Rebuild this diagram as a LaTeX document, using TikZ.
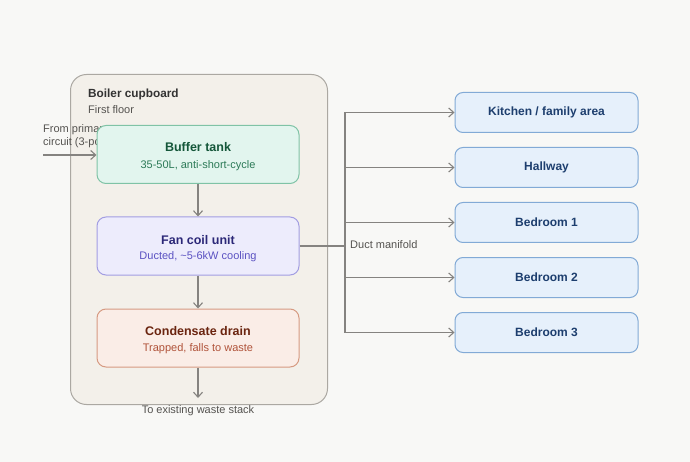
\documentclass[tikz,border=0pt]{standalone}
\usepackage{fontspec}
\setmainfont{Liberation Sans}
\usetikzlibrary{arrows.meta}
\definecolor{bg}{HTML}{F8F8F6}
\definecolor{cupfill}{HTML}{F3F0EA}
\definecolor{cupline}{HTML}{ABA8A2}
\definecolor{conn}{HTML}{858380}
\definecolor{tankfill}{HTML}{E2F5EE}
\definecolor{tankline}{HTML}{7FC3A6}
\definecolor{tanktitle}{HTML}{15573A}
\definecolor{tanksub}{HTML}{2C7A57}
\definecolor{fanfill}{HTML}{EDECFC}
\definecolor{fanline}{HTML}{A29DE2}
\definecolor{fantitle}{HTML}{2C2878}
\definecolor{fansub}{HTML}{5B52C2}
\definecolor{drfill}{HTML}{FAEDE7}
\definecolor{drline}{HTML}{D69A82}
\definecolor{drtitle}{HTML}{6A240F}
\definecolor{drsub}{HTML}{B0533A}
\definecolor{roomfill}{HTML}{E6F0FB}
\definecolor{roomline}{HTML}{82AAD6}
\definecolor{roomtext}{HTML}{1D3E6E}
\definecolor{labtext}{HTML}{555350}
\begin{document}
\begin{tikzpicture}[x=1pt,y=-1pt,
  unit/.style={draw,line width=1pt,rounded corners=9pt,minimum width=202pt,minimum height=58pt,inner sep=0pt},
  room/.style={draw=roomline,fill=roomfill,line width=1pt,rounded corners=8pt,minimum width=183pt,minimum height=40pt,inner sep=0pt,
    text=roomtext,font=\fontsize{12}{14}\selectfont\bfseries},
  flow/.style={draw=conn,line width=1.4pt,-{Straight Barb[length=5pt,width=9pt,line width=1.1pt]}},
  plain/.style={draw=conn,line width=1.4pt},
  lab/.style={text=labtext,font=\fontsize{11}{13}\selectfont,inner sep=0pt},
  ttl/.style={font=\fontsize{12.5}{14}\selectfont\bfseries,inner sep=0pt},
  sub/.style={font=\fontsize{11}{13}\selectfont,inner sep=0pt}
]
\useasboundingbox (0,0) rectangle (690,462);
\fill[bg] (0,0) rectangle (690,462);
% cupboard container
\node[draw=cupline,fill=cupfill,line width=1pt,rounded corners=16pt,minimum width=257pt,minimum height=330pt,inner sep=0pt,anchor=north west] (cup) at (70,74) {};
\node[anchor=base west,inner sep=0pt,text=black!80,font=\fontsize{11.8}{14}\selectfont\bfseries] (cuptitle) at (88,98) {Boiler cupboard};
\node[lab,anchor=base west] (cupsub) at (88,114) {First floor};
% primary inlet label (partly hidden by tank)
\node[lab,anchor=base west,align=left] (prim1) at (43,133) {From primary};
\node[lab,anchor=base west,align=left] (prim2) at (43,146) {circuit (3-port)};
\coordinate (primstart) at (43,155);
% units
\node[unit,draw=tankline,fill=tankfill] (tank) at (198,154.5) {};
\node[ttl,text=tanktitle] (tankt) at (198,147) {Buffer tank};
\node[sub,text=tanksub] (tanks) at (198,166) {35-50L, anti-short-cycle};
\node[unit,draw=fanline,fill=fanfill] (fan) at (198,246) {};
\node[ttl,text=fantitle] (fant) at (198,240) {Fan coil unit};
\node[sub,text=fansub] (fans) at (198,257) {Ducted, \textasciitilde5-6kW cooling};
\node[unit,draw=drline,fill=drfill] (drain) at (198,338) {};
\node[ttl,text=drtitle] (draint) at (198,331) {Condensate drain};
\node[sub,text=drsub] (drains) at (198,349) {Trapped, falls to waste};
\coordinate (waste) at (198,398);
\node[lab,anchor=base] (wastelab) at (198,413) {To existing waste stack};
% connectors
\draw[flow] (primstart) -- (primstart -| tank.west);
\draw[flow] (tank.south) -- (fan.north);
\draw[flow] (fan.south) -- (drain.north);
\draw[flow] (drain.south) -- (waste);
% rooms
\node[room] (kit) at (546.5,112.5) {Kitchen / family area};
\node[room] (hall) at (546.5,167.5) {Hallway};
\node[room] (bed1) at (546.5,222.5) {Bedroom 1};
\node[room] (bed2) at (546.5,277.5) {Bedroom 2};
\node[room] (bed3) at (546.5,332.5) {Bedroom 3};
% manifold
\coordinate (man) at (fan.east -| 345,0);
\draw[plain] (fan.east) -- (man);
\node[lab,anchor=base west] (manlab) at (350,248) {Duct manifold};
\foreach \r in {kit,hall,bed1,bed2,bed3}{
  \draw[flow] (man) |- (\r.west);
}
\end{tikzpicture}
\end{document}
